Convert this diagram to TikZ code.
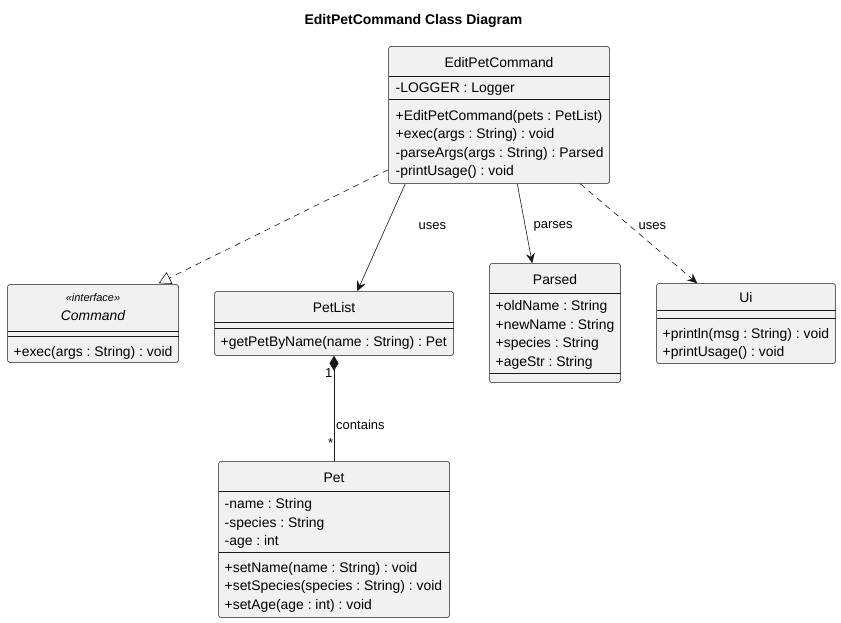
\documentclass[tikz,border=0pt]{standalone}
\usepackage{fontspec}
\setmainfont{Liberation Sans}
\usetikzlibrary{arrows.meta,calc}
\definecolor{boxfill}{HTML}{F1F1F1}
\definecolor{boxline}{HTML}{181818}
\frenchspacing
\begin{document}
\begin{tikzpicture}[x=1pt,y=-1pt,
  classbox/.style={draw=boxline,fill=boxfill,rounded corners=2.5pt,line width=0.5pt,minimum width=#1,inner sep=0pt},
  sep/.style={draw=boxline,line width=0.5pt},
  txt/.style={anchor=west,inner sep=0pt,font=\fontsize{13.9}{16}\selectfont,text=black},
  ttl/.style={inner sep=0pt,font=\fontsize{13.9}{16}\selectfont,text=black},
  lbl/.style={inner sep=0pt,font=\fontsize{13}{15}\selectfont,text=black},
  conn/.style={draw=boxline,line width=0.6pt},
  dsh/.style={conn,dash pattern=on 6pt off 5pt},
  tip/.style={-{Stealth[length=10pt,width=9pt,inset=3.5pt]}}
]
\useasboundingbox (0,0) rectangle (841,623);
\fill[white] (0,0) rectangle (841,623);
\begin{scope}[shift={(0.5,0.5)}]
\node[font=\bfseries\fontsize{14}{16}\selectfont,inner sep=0pt] (title) at (413,20) {EditPetCommand Class Diagram};

% EditPetCommand
\node[classbox=221pt,minimum height=137pt] (epc) at (498.5,114.5) {};
\draw[sep] (388,76) -- (609,76);
\draw[sep] (388,99) -- (609,99);
\node[ttl] (epct) at (498.5,62) {EditPetCommand};
\node[txt] (epc1) at (395,89) {-LOGGER : Logger};
\node[txt] (epc2) at (395,116) {+EditPetCommand(pets : PetList)};
\node[txt] (epc3) at (395,134.5) {+exec(args : String) : void};
\node[txt] (epc4) at (395,153) {-parseArgs(args : String) : Parsed};
\node[txt] (epc5) at (395,171.5) {-printUsage() : void};

% Command
\node[classbox=171pt,minimum height=78pt] (cmd) at (92.5,323) {};
\draw[sep] (7,331) -- (178,331);
\draw[sep] (7,336) -- (178,336);
\node[inner sep=0pt,font=\itshape\fontsize{11}{13}\selectfont] (cmds) at (92.5,297.5) {«interface»};
\node[ttl,font=\itshape\fontsize{13.9}{16}\selectfont] (cmdt) at (92.5,315) {Command};
\node[txt] (cmd1) at (13,352) {+exec(args : String) : void};

% PetList
\node[classbox=239pt,minimum height=64pt] (pl) at (333.5,323) {};
\draw[sep] (214,322) -- (453,322);
\draw[sep] (214,328) -- (453,328);
\node[ttl] (plt) at (333.5,307) {PetList};
\node[txt] (pl1) at (220,342) {+getPetByName(name : String) : Pet};

% Parsed
\node[classbox=131pt,minimum height=119pt] (pa) at (554.5,322.5) {};
\draw[sep] (489,293) -- (620,293);
\draw[sep] (489,373) -- (620,373);
\node[ttl] (pat) at (554.5,279) {Parsed};
\node[txt] (pa1) at (495,306.5) {+oldName : String};
\node[txt] (pa2) at (495,325) {+newName : String};
\node[txt] (pa3) at (495,343.5) {+species : String};
\node[txt] (pa4) at (495,362) {+ageStr : String};

% Ui
\node[classbox=179pt,minimum height=80pt] (ui) at (745.5,323) {};
\draw[sep] (656,310) -- (835,310);
\draw[sep] (656,318) -- (835,318);
\node[ttl] (uit) at (745.5,297.5) {Ui};
\node[txt] (ui1) at (662,334) {+println(msg : String) : void};
\node[txt] (ui2) at (662,352) {+printUsage() : void};

% Pet
\node[classbox=231pt,minimum height=156pt] (pet) at (333.5,539) {};
\draw[sep] (218,491) -- (449,491);
\draw[sep] (218,552) -- (449,552);
\node[ttl] (pett) at (333.5,477) {Pet};
\node[txt] (pet1) at (224,504.5) {-name : String};
\node[txt] (pet2) at (224,523) {-species : String};
\node[txt] (pet3) at (224,541.5) {-age : int};
\node[txt] (pet4) at (224,568) {+setName(name : String) : void};
\node[txt] (pet5) at (224,586.5) {+setSpecies(species : String) : void};
\node[txt] (pet6) at (224,605) {+setAge(age : int) : void};

% connectors
\draw[dsh,-{Triangle[open,length=12pt,width=13pt]}] ($(epc.south west)+(0,-14)$) -- ($(cmd.north east)+(-20,-1)$);
\draw[conn,tip] ($(epc.south west)+(17,0)$) -- ($(pl.north west)+(143,0)$);
\draw[conn,tip] ($(epc.south west)+(129,0)$) -- ($(pa.north west)+(43,0)$);
\draw[dsh,tip] ($(epc.south west)+(192,0)$) -- ($(ui.north west)+(41,0)$);
\draw[conn,{Diamond[length=15pt,width=9pt]}-] (pl.south) -- (pet.north);
\node[lbl,anchor=west] (l1) at (418,226) {uses};
\node[lbl,anchor=west] (l2) at (533,226) {parses};
\node[lbl,anchor=west] (l3) at (638,226) {uses};
\node[lbl,anchor=west] (l4) at (335.5,424) {contains};
\node[lbl,anchor=east] (m1) at (332,372.5) {1};
\node[lbl,anchor=east] (m2) at (333,443) {*};
\end{scope}
\end{tikzpicture}
\end{document}
